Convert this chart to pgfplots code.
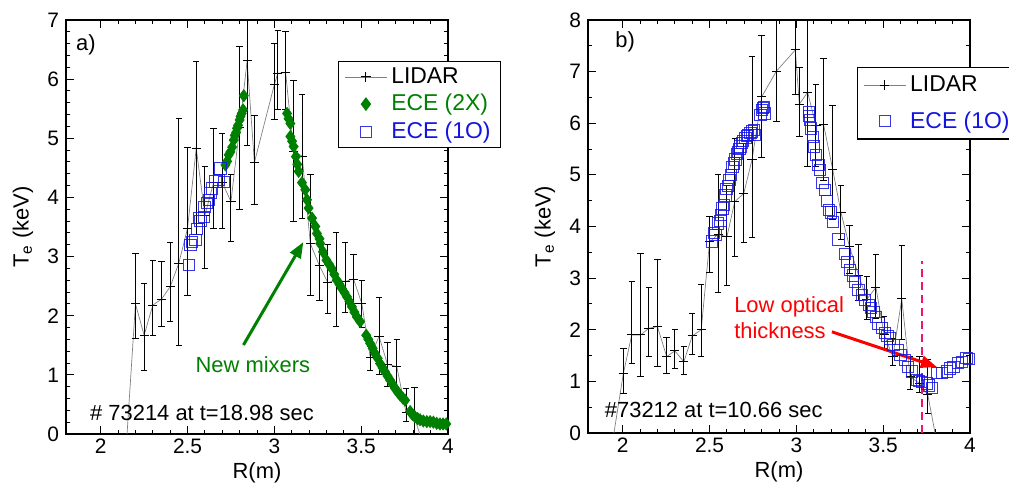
\documentclass[border=0pt]{standalone}
\usepackage{fontspec}
\setmainfont{Liberation Sans}
\usepackage{pgfplots}
\pgfplotsset{compat=1.18}
\usetikzlibrary{arrows.meta}

\definecolor{eceGreen}{RGB}{0,128,0}
\definecolor{eceBlue}{RGB}{20,20,225}
\definecolor{cutPink}{RGB}{240,20,110}

\pgfplotsset{
  panel/.style={
    scale only axis, width=191bp,
    xmin=1.8, xmax=4,
    xtick={2,2.5,3,3.5,4},
    xticklabels={2,2.5,3,3.5,4},
    minor x tick num=4,
    tick align=inside,
    major tick length=4bp, minor tick length=2bp,
    every tick/.style={black, line width=0.5pt},
    axis line style={line width=0.6pt},
    tick label style={font=\fontsize{10.5}{12}\selectfont},
    xticklabel style={yshift=1bp},
    /pgf/number format/assume math mode=true,
    xlabel={R(m)}, ylabel={T\textsubscript{e} (keV)},
    label style={font=\fontsize{11}{13}\selectfont},
    xlabel style={at={(axis description cs:0.5,-0.068)}, anchor=north, inner sep=0pt},
    ylabel style={at={(axis description cs:-0.085,0.5)}, anchor=south, inner sep=0pt},
    legend image code/.code={
      \draw[mark repeat=2,mark phase=2,##1] plot coordinates {(0bp,0bp) (10.5bp,0bp) (21bp,0bp)};},
    legend style={draw=black, line width=0.6pt, font=\fontsize{11.5}{13}\selectfont,
      inner xsep=3bp, inner ysep=1bp, cells={anchor=west}},
  },
  lidar/.style={gray, line width=0.35pt, mark=+, mark size=2.3bp,
    mark options={black, line width=0.5pt},
    error bars/.cd, y dir=both, y explicit,
    error bar style={black, line width=0.5pt},
    error mark options={black, line width=0.5pt, mark size=1.6bp, rotate=90}},
  ece2x/.style={only marks, mark=diamond*, mark size=3bp, color=eceGreen},
  ece1o/.style={only marks, mark=square, mark size=2.8bp, color=eceBlue,
    mark options={line width=0.5pt, draw opacity=0.85}},
}

\begin{document}
\begin{tikzpicture}
\path[use as bounding box] (0,0) rectangle (504.5bp,242.5bp);

% ---------------- panel a)
\begin{axis}[panel, at={(33bp,25.5bp)}, anchor=south west, height=207bp,
    ymin=0, ymax=7, ytick={0,1,...,7}, minor y tick num=4,
    legend style={at={(rel axis cs:0.712,0.901)}, anchor=north west}]
\addplot+[lidar] coordinates {
(2.145,-0.3)
(2.20,2.20) += (0,0.86) -= (0,0.58)
(2.25,1.67) += (0,0.88) -= (0,0.60)
(2.30,2.18) += (0,0.76) -= (0,0.52)
(2.35,2.28) += (0,0.64) -= (0,0.47)
(2.40,2.49) += (0,0.74) -= (0,0.58)
(2.45,2.89) += (0,2.44) -= (0,1.39)
(2.50,3.48) += (0,1.37) -= (0,1.13)
(2.55,4.83) += (0,1.46) -= (0,1.45)
(2.60,3.70) += (0,0.82) -= (0,0.91)
(2.65,4.25) += (0,0.91) -= (0,0.77)
(2.70,4.25) += (0,0.83) -= (0,0.77)
(2.75,3.93) += (0,0.45) -= (0,0.68)
(2.80,5.18) += (0,1.38) -= (0,1.38)
(2.843,6.31) += (0,1.44) -= (0,1.44)
(2.885,4.59) += (0,0.79) -= (0,0.71)
(3.00,5.91) += (0,0.69) -= (0,0.60)
(3.02,6.10) += (0,0.72) -= (0,0.62)
(3.065,6.11) += (0,0.69) -= (0,0.63)
(3.11,4.78) += (0,1.19) -= (0,1.18)
(3.16,4.70) += (0,1.04) -= (0,1.05)
(3.207,3.22) += (0,1.16) -= (0,0.87)
(3.259,2.85) += (0,0.45) -= (0,0.60)
(3.308,2.56) += (0,0.64) -= (0,0.53)
(3.356,2.60) += (0,0.81) -= (0,0.79)
(3.408,2.58) += (0,0.66) -= (0,0.53)
(3.456,2.62) += (0,0.42) -= (0,0.42)
(3.504,2.20) += (0,0.39) -= (0,0.40)
(3.552,1.30) += (0,0.18) -= (0,0.22)
(3.603,1.65) += (0,0.65) -= (0,0.65)
(3.651,1.18) += (0,0.37) -= (0,0.38)
(3.705,1.14) += (0,0.45) -= (0,0.44)
(3.759,0.36) += (0,0.41) -= (0,0.15)
(3.807,0.28) += (0,0.50) -= (0,0.48)
(3.87,-0.3)
};
\addlegendentry{LIDAR}
\addplot[ece2x] coordinates {
(2.718,4.55) (2.728,4.61) (2.737,4.72) (2.747,4.77) (2.757,4.85) (2.766,4.97)
(2.772,5.05) (2.78,5.10) (2.785,5.17) (2.791,5.22) (2.80,5.31) (2.805,5.37)
(2.812,5.42) (2.82,5.48) (2.824,5.72)
(3.073,5.42) (3.082,5.33) (3.092,5.25) (3.092,5.03) (3.102,4.95) (3.111,4.86)
(3.124,4.69) (3.132,4.56) (3.14,4.44) (3.159,4.25) (3.178,4.13) (3.188,3.96)
(3.197,3.82) (3.217,3.65) (3.236,3.51) (3.245,3.39) (3.26,3.30) (3.264,3.22)
(3.28,3.08) (3.30,2.94) (3.315,2.87) (3.33,2.80) (3.345,2.70) (3.36,2.60)
(3.375,2.53) (3.389,2.46) (3.404,2.39) (3.418,2.32) (3.432,2.24) (3.447,2.15)
(3.461,2.06) (3.475,1.98) (3.494,1.90) (3.529,1.67) (3.541,1.60) (3.552,1.53)
(3.566,1.45) (3.58,1.36) (3.595,1.28) (3.609,1.19) (3.623,1.12) (3.638,1.05)
(3.652,0.98) (3.667,0.91) (3.681,0.84) (3.695,0.77) (3.71,0.71) (3.724,0.66)
(3.739,0.61) (3.753,0.57) (3.782,0.38) (3.795,0.33) (3.81,0.29) (3.825,0.26)
(3.839,0.24) (3.858,0.22) (3.878,0.21) (3.897,0.21) (3.916,0.20) (3.935,0.18)
(3.954,0.17) (3.972,0.17) (3.99,0.17) (4.01,0.15)
};
\addlegendentry{\textcolor{eceGreen}{ECE (2X)}}
\addplot[ece1o] coordinates {
(2.508,2.86) (2.517,3.20) (2.527,3.25) (2.546,3.28) (2.556,3.46) (2.565,3.65)
(2.575,3.60) (2.594,3.67) (2.598,3.84) (2.612,3.90) (2.622,3.96) (2.632,4.07)
(2.642,4.15) (2.661,4.27) (2.68,4.29) (2.69,4.49) (2.709,4.26)
};
\addlegendentry{\textcolor{eceBlue}{ECE (1O)}}
\draw[eceGreen, line width=1.5bp, -{Triangle[length=8bp, width=6bp]}]
  (axis cs:2.822,1.505) -- (axis cs:3.167,3.246);
\node[eceGreen, font=\fontsize{11}{13}\selectfont] at (axis cs:2.876,1.17) {New mixers};
\node[font=\fontsize{11}{13}\selectfont, anchor=west] at (rel axis cs:0.045,0.051) {\# 73214 at t=18.98 sec};
\node[font=\fontsize{11}{13}\selectfont] at (rel axis cs:0.052,0.94) {a)};
\end{axis}

% ---------------- panel b)
\begin{axis}[panel, at={(294bp,26bp)}, anchor=south west, height=206.5bp,
    ymin=0, ymax=8, ytick={0,1,...,8}, minor y tick num=1,
    legend style={at={(rel axis cs:0.704,0.886)}, anchor=north west,
      row sep=4.5bp, inner ysep=2bp}]
\addplot+[lidar] coordinates {
(1.94,-0.2)
(2.004,1.16) += (0,0.48) -= (0,0.40)
(2.052,1.90) += (0,1.04) -= (0,0.55)
(2.103,1.90) += (0,1.58) -= (0,0.80)
(2.151,2.03) += (0,0.79) -= (0,0.55)
(2.20,2.06) += (0,1.30) -= (0,0.78)
(2.253,1.48) += (0,0.37) -= (0,0.32)
(2.30,1.59) += (0,0.41) -= (0,0.35)
(2.352,1.38) += (0,0.29) -= (0,0.24)
(2.40,1.88) += (0,0.43) -= (0,0.36)
(2.452,2.00) += (0,0.87) -= (0,0.51)
(2.50,3.70) += (0,0.50) -= (0,0.60)
(2.55,3.85) += (0,1.16) -= (0,1.13)
(2.60,3.80) += (0,1.00) -= (0,0.95)
(2.645,4.48) += (0,1.23) -= (0,1.06)
(2.697,4.64) += (0,0.96) -= (0,0.95)
(2.745,5.30) += (0,1.99) -= (0,1.51)
(2.80,6.51) += (0,1.19) -= (0,1.17)
(2.885,7.01) += (0,1.30) -= (0,0.97)
(2.994,7.42) += (0,1.10) -= (0,0.87)
(3.017,6.37) += (0,0.71) -= (0,0.63)
(3.065,6.60) += (0,1.70) -= (0,1.44)
(3.113,5.95) += (0,0.80) -= (0,0.79)
(3.157,5.97) += (0,1.29) -= (0,1.07)
(3.209,5.11) += (0,1.24) -= (0,0.98)
(3.257,4.27) += (0,0.52) -= (0,0.52)
(3.306,3.61) += (0,0.41) -= (0,0.52)
(3.358,3.06) += (0,0.60) -= (0,0.50)
(3.406,2.59) += (0,0.44) -= (0,0.40)
(3.458,2.82) += (0,0.64) -= (0,0.61)
(3.506,1.90) += (0,0.35) -= (0,0.26)
(3.556,1.48) += (0,0.35) -= (0,0.18)
(3.607,2.60) += (0,1.03) -= (0,0.78)
(3.655,1.09) += (0,0.39) -= (0,0.24)
(3.709,0.96) += (0,0.52) -= (0,0.17)
(3.757,0.74) += (0,0.69) -= (0,0.36)
(3.81,-0.2)
};
\addlegendentry{LIDAR}
\addplot[ece1o] coordinates {
(2.515,3.71) (2.525,3.87) (2.534,3.84) (2.548,4.06) (2.563,4.10) (2.567,4.22)
(2.575,4.35) (2.582,4.42) (2.592,4.60) (2.598,4.72) (2.607,4.78) (2.615,4.90)
(2.624,5.00) (2.632,5.16) (2.64,5.22) (2.649,5.30) (2.658,5.40) (2.663,5.45)
(2.672,5.50) (2.678,5.55) (2.688,5.61) (2.694,5.66) (2.707,5.71) (2.716,5.76)
(2.722,5.77) (2.736,5.81) (2.745,5.84) (2.755,5.87) (2.764,5.77) (2.793,6.16)
(2.803,6.26) (2.81,6.30) (2.812,6.32) (2.816,6.19)
(3.071,6.22) (3.074,6.14) (3.077,6.06) (3.084,5.90) (3.094,5.74) (3.103,5.55)
(3.115,5.39) (3.128,5.19) (3.138,5.09) (3.151,4.84) (3.163,4.71) (3.176,4.49)
(3.19,4.32) (3.199,4.27) (3.211,4.09) (3.243,3.75) (3.282,3.46) (3.295,3.32)
(3.31,3.16) (3.325,3.05) (3.339,2.93) (3.358,2.77) (3.377,2.67) (3.397,2.58)
(3.416,2.48) (3.43,2.42) (3.444,2.35) (3.46,2.25) (3.473,2.12) (3.493,2.03)
(3.511,1.93) (3.525,1.88) (3.54,1.83) (3.559,1.70) (3.583,1.61) (3.60,1.51)
(3.626,1.41) (3.645,1.28) (3.665,1.19) (3.693,1.03) (3.708,1.01) (3.722,0.99)
(3.751,0.96) (3.765,0.92) (3.78,0.87) (3.809,1.16) (3.837,1.16) (3.866,1.19)
(3.885,1.25) (3.905,1.28) (3.933,1.35) (3.952,1.38) (3.98,1.45) (3.995,1.43)
};
\addlegendentry{\textcolor{eceBlue}{ECE (1O)}}
\addplot[forget plot, cutPink, line width=1.2bp, dash pattern=on 4bp off 2.5bp]
  coordinates {(3.724,0) (3.724,3.33)};
\draw[red, line width=1.5bp, -{Triangle[length=8bp, width=6bp]}]
  (axis cs:3.205,1.96) -- (axis cs:3.809,1.28);
\node[red, font=\fontsize{11}{13}\selectfont, anchor=west, align=left] at (axis cs:2.602,2.23)
  {Low optical\\thickness};
\node[font=\fontsize{11}{13}\selectfont, anchor=west] at (rel axis cs:0.026,0.056) {\#73212 at t=10.66 sec};
\node[font=\fontsize{11}{13}\selectfont] at (rel axis cs:0.097,0.947) {b)};
\end{axis}
\end{tikzpicture}
\end{document}
